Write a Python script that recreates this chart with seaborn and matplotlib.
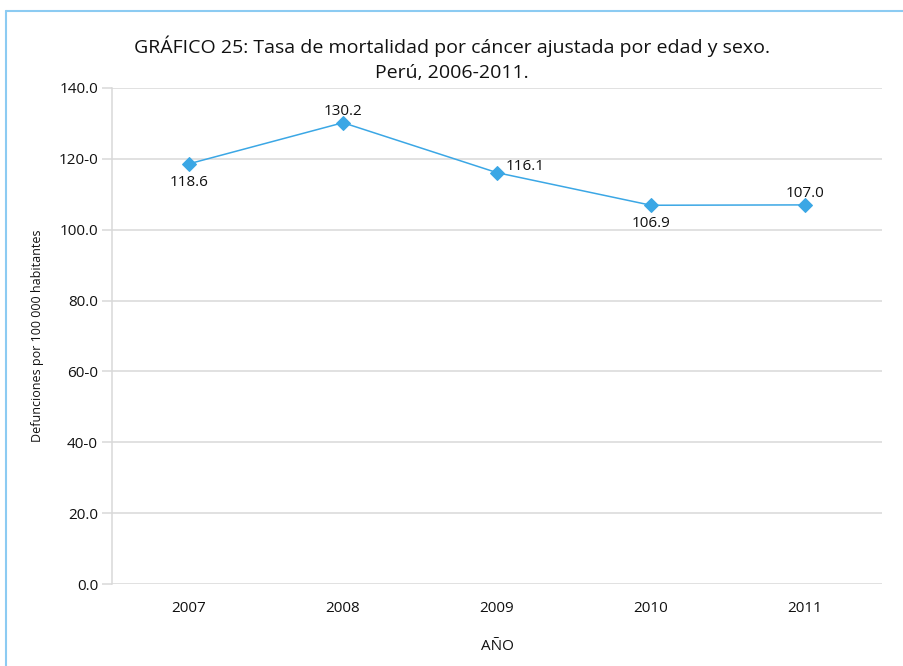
import pandas as pd
import seaborn as sns
import matplotlib.pyplot as plt
from matplotlib.lines import Line2D

# data
years = ['2007', '2008', '2009', '2010', '2011']
tasa = [118.6, 130.2, 116.1, 106.9, 107.0]
ytick_vals = [0, 20, 40, 60, 80, 100, 120, 140]
ytick_labels = ['0.0', '20.0', '40-0', '60-0', '80.0', '100.0', '120-0', '140.0']
label_pos = ['below', 'above', 'right', 'below', 'above']

df = pd.DataFrame({'anio': years, 'tasa': tasa})

sns.set_style('white')
plt.rcParams['font.family'] = ['Open Sans', 'DejaVu Sans']
plt.rcParams['text.color'] = '#111111'
plt.rcParams['axes.labelcolor'] = '#111111'
plt.rcParams['xtick.labelcolor'] = '#111111'
plt.rcParams['ytick.labelcolor'] = '#111111'

fig = plt.figure(figsize=(9.04, 6.66), dpi=100)
ax = fig.add_axes([0.1239, 0.1231, 0.8518, 0.7448])

blue = '#3BA7E5'
sns.lineplot(data=df, x='anio', y='tasa', ax=ax, color=blue, linewidth=1.1,
             marker='D', markersize=7.5, markeredgecolor=blue, sort=False)

ax.set_xlim(-0.5, 4.5)
ax.set_ylim(0, 140)
ax.set_yticks(ytick_vals)
ax.set_yticklabels(ytick_labels)
ax.grid(axis='y', color='#d9d9d9', linewidth=1.1)
ax.set_axisbelow(True)
for s in ['top', 'right', 'bottom']:
    ax.spines[s].set_visible(False)
ax.spines['left'].set_color('#d9d9d9')
ax.spines['left'].set_linewidth(1.1)
ax.tick_params(axis='y', length=7, color='#d9d9d9', width=1.1, labelsize=11, pad=3, left=True)
ax.tick_params(axis='x', length=0, labelsize=11, pad=12)

# data labels
for i, (v, p) in enumerate(zip(tasa, label_pos)):
    if p == 'below':
        ax.annotate(f'{v:.1f}', (i, v), xytext=(0, -8), textcoords='offset points',
                    ha='center', va='top', fontsize=11)
    elif p == 'above':
        ax.annotate(f'{v:.1f}', (i, v), xytext=(0, 3), textcoords='offset points',
                    ha='center', va='bottom', fontsize=11)
    else:
        ax.annotate(f'{v:.1f}', (i, v), xytext=(6, -1), textcoords='offset points',
                    ha='left', va='bottom', fontsize=11)

ax.set_xlabel('AÑO', fontsize=11, labelpad=17)
ax.set_ylabel('Defunciones por 100 000 habitantes', fontsize=9, labelpad=10)

fig.text(0.5, 0.912, 'GRÁFICO 25: Tasa de mortalidad por cáncer ajustada por edad y sexo.\nPerú, 2006-2011.',
         ha='center', va='center', fontsize=14, linespacing=1.45)

# light blue frame (left + top)
fig.add_artist(Line2D([0.0066, 0.0066], [0, 0.9835], transform=fig.transFigure, color='#8CCBF2', linewidth=1.5))
fig.add_artist(Line2D([0.0066, 1], [0.9835, 0.9835], transform=fig.transFigure, color='#8CCBF2', linewidth=1.5))

fig.savefig('out.png', dpi=100)
